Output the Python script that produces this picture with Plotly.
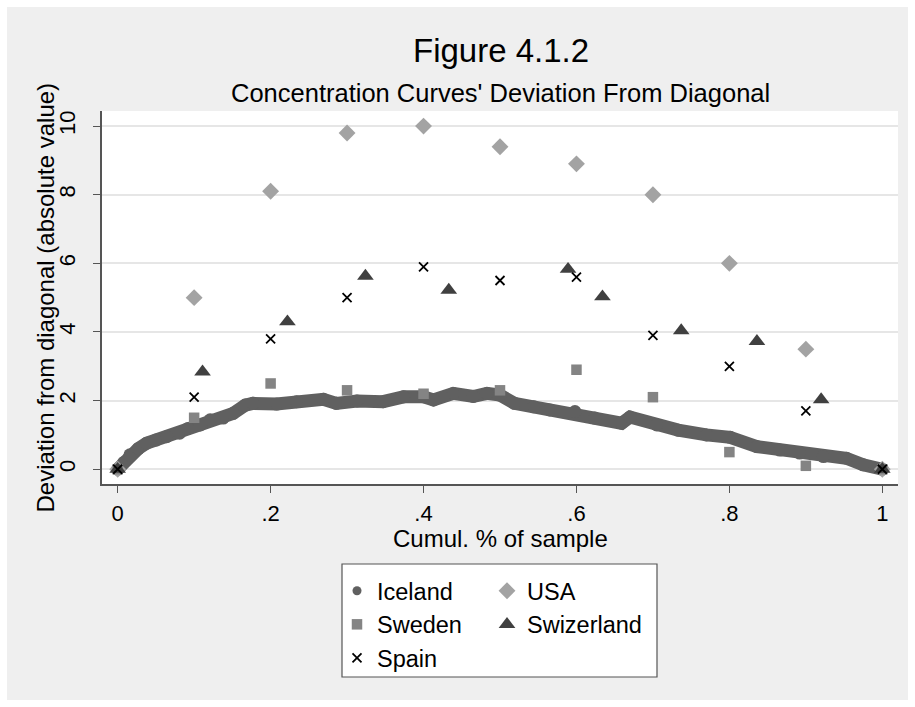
import plotly.graph_objects as go

# ---------------- data ----------------
deciles = [0, 0.1, 0.2, 0.3, 0.4, 0.5, 0.6, 0.7, 0.8, 0.9, 1.0]
usa = [0, 5.0, 8.1, 9.8, 10.0, 9.4, 8.9, 8.0, 6.0, 3.5, 0]
sweden = [0, 1.5, 2.5, 2.3, 2.2, 2.3, 2.9, 2.1, 0.5, 0.1, 0]
spain = [0, 2.1, 3.8, 5.0, 5.9, 5.5, 5.6, 3.9, 3.0, 1.7, 0]
swiss_x = [0, 0.111, 0.222, 0.324, 0.433, 0.589, 0.634, 0.737, 0.836, 0.920, 1.0]
swiss_y = [0, 2.84, 4.30, 5.63, 5.22, 5.83, 5.03, 4.04, 3.73, 2.03, 0]
iceland_x = [0.000, 0.008, 0.016, 0.027, 0.038, 0.050, 0.064, 0.081, 0.092, 0.108,
             0.121, 0.138, 0.151, 0.167, 0.177, 0.208, 0.234, 0.269, 0.286, 0.313,
             0.347, 0.374, 0.400, 0.413, 0.439, 0.465, 0.483, 0.500, 0.519, 0.544,
             0.565, 0.598, 0.624, 0.659, 0.670, 0.705, 0.733, 0.770, 0.801, 0.836,
             0.866, 0.892, 0.923, 0.953, 0.975, 1.000]
iceland_y = [0.00, 0.20, 0.42, 0.60, 0.76, 0.85, 0.95, 1.05, 1.19, 1.29,
             1.44, 1.49, 1.63, 1.87, 1.92, 1.90, 1.97, 2.04, 1.92, 1.99,
             1.97, 2.11, 2.11, 2.02, 2.21, 2.12, 2.21, 2.16, 1.92, 1.82,
             1.73, 1.68, 1.49, 1.34, 1.52, 1.29, 1.14, 1.00, 0.93, 0.66,
             0.56, 0.47, 0.37, 0.32, 0.13, 0.00]
x_ticks = [0, 0.2, 0.4, 0.6, 0.8, 1.0]
x_ticktext = ["0", ".2", ".4", ".6", ".8", "1"]
y_ticks = [0, 2, 4, 6, 8, 10]

# ---------------- layout geometry ----------------
W, H = 915, 707
ML, MR, MT, MB = 102, 17, 111, 223
PW = W - ML - MR
PH = H - MT - MB

def px_x(p):
    return (p - ML) / PW

def px_y(p):
    return (H - MB - p) / PH

FONT = "Liberation Sans, Arial, sans-serif"
C_ICE = "#606060"
C_USA = "#a3a3a3"
C_SWE = "#848484"
C_SUI = "#404040"
C_ESP = "#000000"

fig = go.Figure()

fig.add_trace(go.Scatter(
    x=iceland_x, y=iceland_y, mode="lines+markers", name="Iceland",
    line=dict(color=C_ICE, width=13), marker=dict(symbol="circle", size=13, color=C_ICE),
    showlegend=False, legend="legend"))
fig.add_trace(go.Scatter(
    x=[None], y=[None], mode="markers", name="Iceland",
    marker=dict(symbol="circle", size=9, color=C_ICE), legend="legend"))
fig.add_trace(go.Scatter(
    x=deciles, y=usa, mode="markers", name="USA",
    marker=dict(symbol="diamond", size=13, color=C_USA), legend="legend2"))
fig.add_trace(go.Scatter(
    x=deciles, y=sweden, mode="markers", name="Sweden",
    marker=dict(symbol="square", size=10.5, color=C_SWE), legend="legend"))
fig.add_trace(go.Scatter(
    x=swiss_x, y=swiss_y, mode="markers", name="Swizerland",
    marker=dict(symbol="triangle-up", size=14.5, color=C_SUI), legend="legend2"))
fig.add_trace(go.Scatter(
    x=deciles, y=spain, mode="markers", name="Spain",
    marker=dict(symbol="x-thin", size=9, color=C_ESP, line=dict(color=C_ESP, width=1.8)),
    legend="legend"))

shapes = [
    # outer grey graph region
    dict(type="rect", xref="paper", yref="paper", layer="below",
         x0=px_x(7), x1=px_x(908), y0=px_y(700), y1=px_y(7),
         fillcolor="#efefef", line=dict(width=0)),
    # white plot region
    dict(type="rect", xref="paper", yref="paper", layer="below",
         x0=0, x1=1, y0=0, y1=1, fillcolor="white", line=dict(width=0)),
    # legend box
    dict(type="rect", xref="paper", yref="paper", layer="below",
         x0=px_x(342), x1=px_x(657), y0=px_y(677), y1=px_y(564),
         fillcolor="white", line=dict(color="#555555", width=1.2)),
]

annotations = [
    dict(text="Figure 4.1.2", xref="paper", yref="paper", x=px_x(501), y=px_y(50.7),
         xanchor="center", yanchor="middle", showarrow=False,
         font=dict(family=FONT, size=33, color="black")),
    dict(text="Concentration Curves' Deviation From Diagonal", xref="paper", yref="paper",
         x=px_x(500), y=px_y(93.1), xanchor="center", yanchor="middle", showarrow=False,
         font=dict(family=FONT, size=25.5, color="black")),
    dict(text="Cumul. % of sample", xref="paper", yref="paper", x=px_x(500), y=px_y(538.5),
         xanchor="center", yanchor="middle", showarrow=False,
         font=dict(family=FONT, size=24, color="black")),
    dict(text="Deviation from diagonal (absolute value)", xref="paper", yref="paper",
         x=px_x(45), y=px_y(297.5), xanchor="center", yanchor="middle", textangle=-90,
         showarrow=False, font=dict(family=FONT, size=24, color="black")),
]

legend_common = dict(
    bgcolor="rgba(0,0,0,0)", borderwidth=0, orientation="v",
    font=dict(family=FONT, size=23.5, color="black"),
    xanchor="left", yanchor="top", xref="paper", yref="paper",
    tracegroupgap=0, itemsizing="trace",
)

fig.update_layout(
    width=W, height=H,
    margin=dict(l=ML, r=MR, t=MT, b=MB, pad=0),
    paper_bgcolor="white", plot_bgcolor="white",
    font=dict(family=FONT, color="black"),
    shapes=shapes, annotations=annotations,
    legend=dict(x=px_x(337), y=px_y(569), **legend_common),
    legend2=dict(x=px_x(487), y=px_y(569), **legend_common),
    xaxis=dict(range=[-0.0205, 1.0205], tickvals=x_ticks, ticktext=x_ticktext,
               showgrid=False, zeroline=False, showline=True, linecolor="#555555",
               linewidth=1.5, ticks="outside", ticklen=7, tickwidth=1.2, tickcolor="#555555",
               tickfont=dict(family=FONT, size=22, color="black"), ticklabelstandoff=2),
    yaxis=dict(range=[-0.43, 10.44], tickvals=y_ticks, tickangle=-90,
               showgrid=True, gridcolor="#e6e6e6", gridwidth=1.6, zeroline=False,
               showline=True, linecolor="#555555", linewidth=1.5,
               ticks="outside", ticklen=7, tickwidth=1.2, tickcolor="#555555",
               tickfont=dict(family=FONT, size=22, color="black"), ticklabelstandoff=9),
)

fig.write_html("out.html")
